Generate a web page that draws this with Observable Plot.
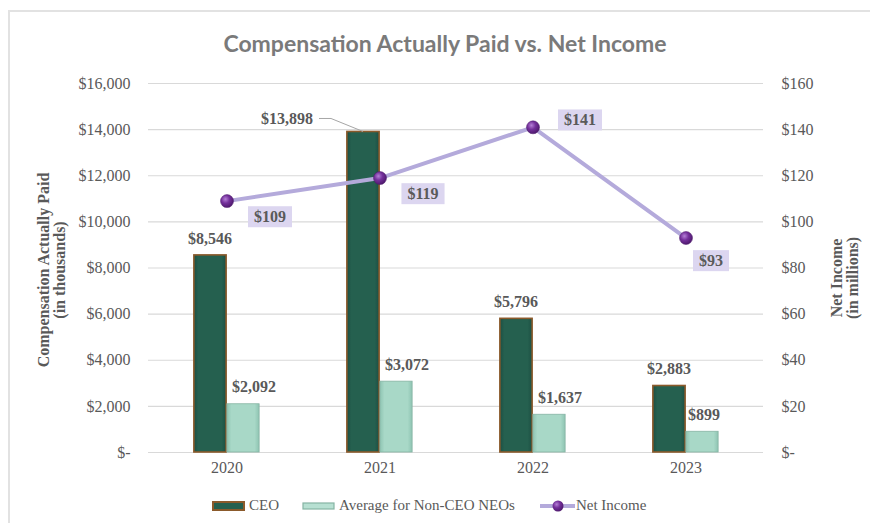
<!DOCTYPE html>
<html>
<head>
<meta charset="utf-8">
<script src="https://cdn.jsdelivr.net/npm/d3@7"></script>
<script src="https://cdn.jsdelivr.net/npm/@observablehq/plot@0.6"></script>
<style>
  html, body { margin: 0; padding: 0; background: #fff; }
  #wrap { position: relative; width: 870px; height: 523px; overflow: hidden; background: #fff; }
  #frame { position: absolute; left: 8px; top: 10px; right: -4px; bottom: -4px;
           border-top: 2px solid #e2e2e2; border-left: 2px solid #e2e2e2; pointer-events: none; }
  #title { height: 62px; box-sizing: border-box; padding-top: 28px; padding-left: 20px; text-align: center;
           font-family: Lato, "Open Sans", sans-serif; font-weight: bold; font-size: 23px; line-height: 30px;
           color: #7a7a7a; }
  #legend { height: 41px; display: flex; align-items: center; padding-left: 212px; padding-top: 6px; box-sizing: border-box;
            font-family: 'Liberation Serif', 'Times New Roman', Times, 'DejaVu Serif', serif; font-size: 15px; color: #595959; }
  .item { display: flex; align-items: center; }
  .item svg { display: block; }
</style>
</head>
<body>
<div id="wrap">
  <div id="title">Compensation Actually Paid vs. Net Income</div>
  <div id="chart"></div>
  <div id="legend"></div>
  <div id="frame"></div>
</div>
<script>
// ---- data ----
const years = ["2020", "2021", "2022", "2023"];
const ceoPay = [8546, 13898, 5796, 2883];          // $ thousands
const neoPay = [2092, 3072, 1637, 899];            // $ thousands
const netIncome = [109, 119, 141, 93];             // $ millions
const leftTicks = [0, 2000, 4000, 6000, 8000, 10000, 12000, 14000, 16000];
const rightTicks = [0, 20, 40, 60, 80, 100, 120, 140, 160];
const seriesNames = ["CEO", "Average for Non-CEO NEOs", "Net Income"];
const leftTitle = "Compensation Actually Paid\n(in thousands)";
const rightTitle = "Net Income\n(in millions)";

// right axis ($ millions, 0–160) shares the left scale (0–16,000)
const RATIO = leftTicks[leftTicks.length - 1] / rightTicks[rightTicks.length - 1];

const rows = years.map((year, i) => ({year, ceo: ceoPay[i], neo: neoPay[i], ni: netIncome[i] * RATIO, niRaw: netIncome[i]}));
const fmt = v => v === 0 ? "$-" : "$" + d3.format(",")(v);

const SERIF = "'Liberation Serif', 'Times New Roman', Times, 'DejaVu Serif', serif";
const W = 870, H = 420, ML = 148, MR = 107, MT = 21, MB = 30;
const step = (W - ML - MR) / years.length;
const half = step / 2, barW = 33;

const C = {ceo: "url(#ceoGrad)", ceoEdge: "#8b5a2b", neo: "url(#neoGrad)", neoEdge: "#86b4a4",
           line: "#b4aadb", dot: "url(#dotGrad)", grid: "#d9d9d9", text: "#595959", niText: "#5a5a5a", box: "#dcd6f0"};

const textStyle = {fontFamily: SERIF, fontSize: 16, fontWeight: "bold", fill: C.text};
const niStyle = {...textStyle, fill: C.niText};

const chart = Plot.plot({
  width: W, height: H,
  marginLeft: ML, marginRight: MR, marginTop: MT, marginBottom: MB,
  style: {fontFamily: SERIF, fontSize: "16px", color: C.text, background: "#fff", overflow: "visible"},
  x: {domain: years, padding: 0},
  y: {domain: [0, 16000]},
  marks: [
    Plot.ruleY(leftTicks, {stroke: C.grid, strokeWidth: 1.2}),
    Plot.axisY({anchor: "left", ticks: leftTicks, tickFormat: fmt, tickSize: 0, tickPadding: 18, label: null, fontFamily: SERIF}),
    Plot.axisY({anchor: "right", ticks: rightTicks.map(v => v * RATIO), tickFormat: v => fmt(v / RATIO), tickSize: 0, tickPadding: 18, label: null, fontFamily: SERIF}),
    Plot.axisX({tickSize: 0, tickPadding: 9, label: null, fontFamily: SERIF}),
    // axis titles
    Plot.text([leftTitle], {frameAnchor: "left", text: d => d, rotate: -90, textAnchor: "middle", dx: -97, dy: 2, ...textStyle}),
    Plot.text([rightTitle], {frameAnchor: "right", text: d => d, rotate: -90, textAnchor: "middle", dx: 81, dy: 10, ...textStyle}),
    // bars
    Plot.barY(rows, {x: "year", y: "ceo", fill: C.ceo, stroke: C.ceoEdge, strokeWidth: 1.6,
                     insetLeft: half - barW, insetRight: half}),
    Plot.barY(rows, {x: "year", y: "neo", fill: C.neo, stroke: C.neoEdge, strokeWidth: 0.8,
                     insetLeft: half, insetRight: half - barW}),
    // bar labels
    Plot.text(rows.filter(d => d.year !== "2021"), {x: "year", y: "ceo", text: d => fmt(d.ceo), dx: -17, dy: -17, ...textStyle}),
    Plot.text(rows.filter(d => d.year === "2021"), {x: "year", y: "ceo", text: d => fmt(d.ceo), dx: -93, dy: -13, ...textStyle}),
    Plot.dot(rows.filter(d => d.year === "2021"), {x: "year", y: "ceo", r: 0,
      render: (index, scales, values) => {
        const g = d3.create("svg:g");
        const bw = scales.x.bandwidth ? scales.x.bandwidth() : 0;
        for (const i of index) {
          const cx = values.x[i] + bw / 2 - barW / 2, cy = values.y[i];
          g.append("path").attr("d", `M${cx - 44},${cy - 13}H${cx - 32}L${cx},${cy}`)
            .attr("fill", "none").attr("stroke", "#a6a6a6").attr("stroke-width", 1);
        }
        return g.node();
      }}),
    Plot.text(rows.filter(d => d.year !== "2023"), {x: "year", y: "neo", text: d => fmt(d.neo), dx: 27, dy: -17, ...textStyle}),
    Plot.text(rows.filter(d => d.year === "2023"), {x: "year", y: "neo", text: d => fmt(d.neo), dx: 18, dy: -17, ...textStyle}),
    // net income line
    Plot.line(rows, {x: "year", y: "ni", stroke: C.line, strokeWidth: 4}),
    Plot.dot(rows, {x: "year", y: "ni", r: 6.5, fill: C.dot, stroke: "#4d1a6b", strokeWidth: 0.5}),
    Plot.text(rows.filter(d => d.year === "2020" || d.year === "2021"), {x: "year", y: "ni", text: d => fmt(d.niRaw), dx: 43, dy: 16, ...niStyle}),
    Plot.text(rows.filter(d => d.year === "2022"), {x: "year", y: "ni", text: d => fmt(d.niRaw), dx: 47, dy: -7, ...niStyle}),
    Plot.text(rows.filter(d => d.year === "2023"), {x: "year", y: "ni", text: d => fmt(d.niRaw), dx: 25, dy: 23, ...niStyle})
  ]
});

document.getElementById("chart").appendChild(chart);

// gradients
const svg = d3.select(chart);
const defs = svg.insert("defs", ":first-child");
const ceoG = defs.append("linearGradient").attr("id", "ceoGrad").attr("x1", 0).attr("x2", 1).attr("y1", 0).attr("y2", 0);
[[0, "#1c4f43"], [0.14, "#25604f"], [0.86, "#25604f"], [1, "#1c4f43"]].forEach(([o, c]) => ceoG.append("stop").attr("offset", o).attr("stop-color", c));
const neoG = defs.append("linearGradient").attr("id", "neoGrad").attr("x1", 0).attr("x2", 1).attr("y1", 0).attr("y2", 0);
[[0, "#8ec4b2"], [0.14, "#a8d8c7"], [0.86, "#a8d8c7"], [1, "#8ec4b2"]].forEach(([o, c]) => neoG.append("stop").attr("offset", o).attr("stop-color", c));
const dotG = defs.append("radialGradient").attr("id", "dotGrad").attr("cx", 0.38).attr("cy", 0.35).attr("r", 0.7);
[[0, "#b47fd6"], [0.45, "#74309b"], [1, "#4a1668"]].forEach(([o, c]) => dotG.append("stop").attr("offset", o).attr("stop-color", c));

// lavender boxes behind net income labels
chart.querySelectorAll(`g[fill="${C.niText}"] text`).forEach(t => {
  const b = t.getBBox();
  const r = document.createElementNS("http://www.w3.org/2000/svg", "rect");
  r.setAttribute("x", b.x - 6);
  r.setAttribute("y", b.y - 2);
  r.setAttribute("width", b.width + 12);
  r.setAttribute("height", b.height + 4);
  r.setAttribute("fill", C.box);
  r.setAttribute("stroke", "none");
  const tr = t.getAttribute("transform");
  if (tr) r.setAttribute("transform", tr);
  t.parentNode.insertBefore(r, t);
});

// legend
const legend = d3.select("#legend");
const swatches = [
  s => { s.append("rect").attr("x", 1).attr("y", 2).attr("width", 31).attr("height", 8).attr("fill", "#25604f").attr("stroke", C.ceoEdge).attr("stroke-width", 2); },
  s => { s.append("rect").attr("x", 1).attr("y", 3).attr("width", 31).attr("height", 6).attr("fill", "#b7e0d2").attr("stroke", "#86b4a4").attr("stroke-width", 1.2); },
  s => { s.append("line").attr("x1", 0).attr("x2", 35).attr("y1", 6).attr("y2", 6).attr("stroke", C.line).attr("stroke-width", 4);
         s.append("circle").attr("cx", 18).attr("cy", 6).attr("r", 5.5).attr("fill", "url(#dotGradL)"); }
];
const gaps = [0, 23, 25];
seriesNames.forEach((name, i) => {
  const it = legend.append("div").attr("class", "item").style("margin-left", gaps[i] + "px");
  const s = it.append("svg").attr("width", i === 2 ? 35 : 33).attr("height", 12);
  if (i === 2) {
    const g = s.append("defs").append("radialGradient").attr("id", "dotGradL").attr("cx", 0.38).attr("cy", 0.35).attr("r", 0.7);
    [[0, "#b47fd6"], [0.45, "#74309b"], [1, "#4a1668"]].forEach(([o, c]) => g.append("stop").attr("offset", o).attr("stop-color", c));
  }
  swatches[i](s);
  it.append("span").style("margin-left", i === 2 ? "1px" : "4px").text(name);
});
</script>
</body>
</html>
